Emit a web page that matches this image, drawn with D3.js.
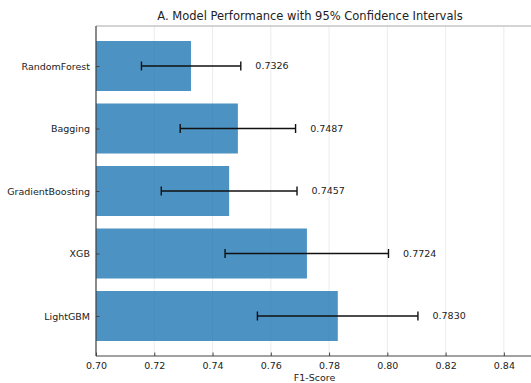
<!DOCTYPE html>
<html><head><meta charset="utf-8">
<script src="https://cdn.jsdelivr.net/npm/d3@7"></script>
<style>body{margin:0;background:#fff}svg{display:block}text{font-family:"DejaVu Sans",sans-serif;fill:#222}</style>
</head><body>
<script>
const models = ["RandomForest","Bagging","GradientBoosting","XGB","LightGBM"];
const f1Scores = [0.7326,0.7487,0.7457,0.7724,0.7830];
const ciLower = [0.7156,0.7289,0.7224,0.7443,0.7554];
const ciUpper = [0.7497,0.7685,0.7690,0.8004,0.8105];
const xTicks = [0.70,0.72,0.74,0.76,0.78,0.80,0.82,0.84];
const titleText = "A. Model Performance with 95% Confidence Intervals";
const xLabel = "F1-Score";

(function(){
const W=531,H=383;
const svg=d3.select("body").append("svg").attr("width",W).attr("height",H);
const mL=96,mR=533,mT=26,mB=356;
const x=d3.scaleLinear().domain([0.70,0.85]).range([mL,mR]);
const y=d3.scaleLinear().domain([-0.64,models.length-1+0.64]).range([mT,mB]);
const bh=y(0.4)-y(-0.4);

svg.append("g").selectAll("line").data(xTicks).join("line")
  .attr("x1",d=>x(d)).attr("x2",d=>x(d)).attr("y1",mT).attr("y2",mB)
  .attr("stroke","#b0b0b0").attr("stroke-opacity",0.3).attr("stroke-width",0.8);

svg.append("g").selectAll("rect").data(models).join("rect")
  .attr("x",x(0.70)).attr("y",(d,i)=>y(i)-bh/2)
  .attr("width",(d,i)=>x(f1Scores[i])-x(0.70)).attr("height",bh)
  .attr("fill","#1f77b4").attr("fill-opacity",0.8);

const eb=svg.append("g").attr("stroke","#111").attr("stroke-width",1.4);
models.forEach((m,i)=>{
  eb.append("line").attr("x1",x(ciLower[i])).attr("x2",x(ciUpper[i])).attr("y1",y(i)).attr("y2",y(i));
  [ciLower[i],ciUpper[i]].forEach(v=>eb.append("line").attr("x1",x(v)).attr("x2",x(v)).attr("y1",y(i)-4.5).attr("y2",y(i)+4.5));
});

svg.append("g").selectAll("text").data(models).join("text")
  .attr("x",(d,i)=>x(ciUpper[i]+0.005)).attr("y",(d,i)=>y(i)).attr("dy","0.35em")
  .attr("font-size","9.5px").text((d,i)=>f1Scores[i].toFixed(4));

svg.append("line").attr("x1",mL).attr("x2",mR).attr("y1",mT).attr("y2",mT).attr("stroke","#aaaaaa").attr("stroke-width",1.2);
svg.append("line").attr("x1",mL).attr("x2",mL).attr("y1",mT).attr("y2",mB).attr("stroke","#444").attr("stroke-width",1.2);
svg.append("line").attr("x1",mL).attr("x2",mR).attr("y1",mB).attr("y2",mB).attr("stroke","#444").attr("stroke-width",1.2);

const xa=svg.append("g").attr("transform",`translate(0,${mB})`)
  .call(d3.axisBottom(x).tickValues(xTicks).tickFormat(d3.format(".2f")).tickSizeInner(-3.5).tickSizeOuter(0).tickPadding(6));
xa.select(".domain").remove();
xa.selectAll("line").attr("stroke","#444");
xa.selectAll("text").attr("font-size","9.5px").attr("fill","#222").attr("font-family","DejaVu Sans");

const ya=svg.append("g").attr("transform",`translate(${mL},0)`)
  .call(d3.axisLeft(y).tickValues(d3.range(models.length)).tickFormat(i=>models[i]).tickSizeInner(-3.5).tickSizeOuter(0).tickPadding(6));
ya.select(".domain").remove();
ya.selectAll("line").attr("stroke","#444");
ya.selectAll("text").attr("font-size","9.5px").attr("fill","#222").attr("font-family","DejaVu Sans");

svg.append("text").attr("x",(mL+mR)/2).attr("y",381).attr("text-anchor","middle").attr("font-size","9.5px").text(xLabel);
svg.append("text").attr("x",310).attr("y",20).attr("text-anchor","middle").attr("font-size","11.5px").text(titleText);
})();
</script>
</body></html>
